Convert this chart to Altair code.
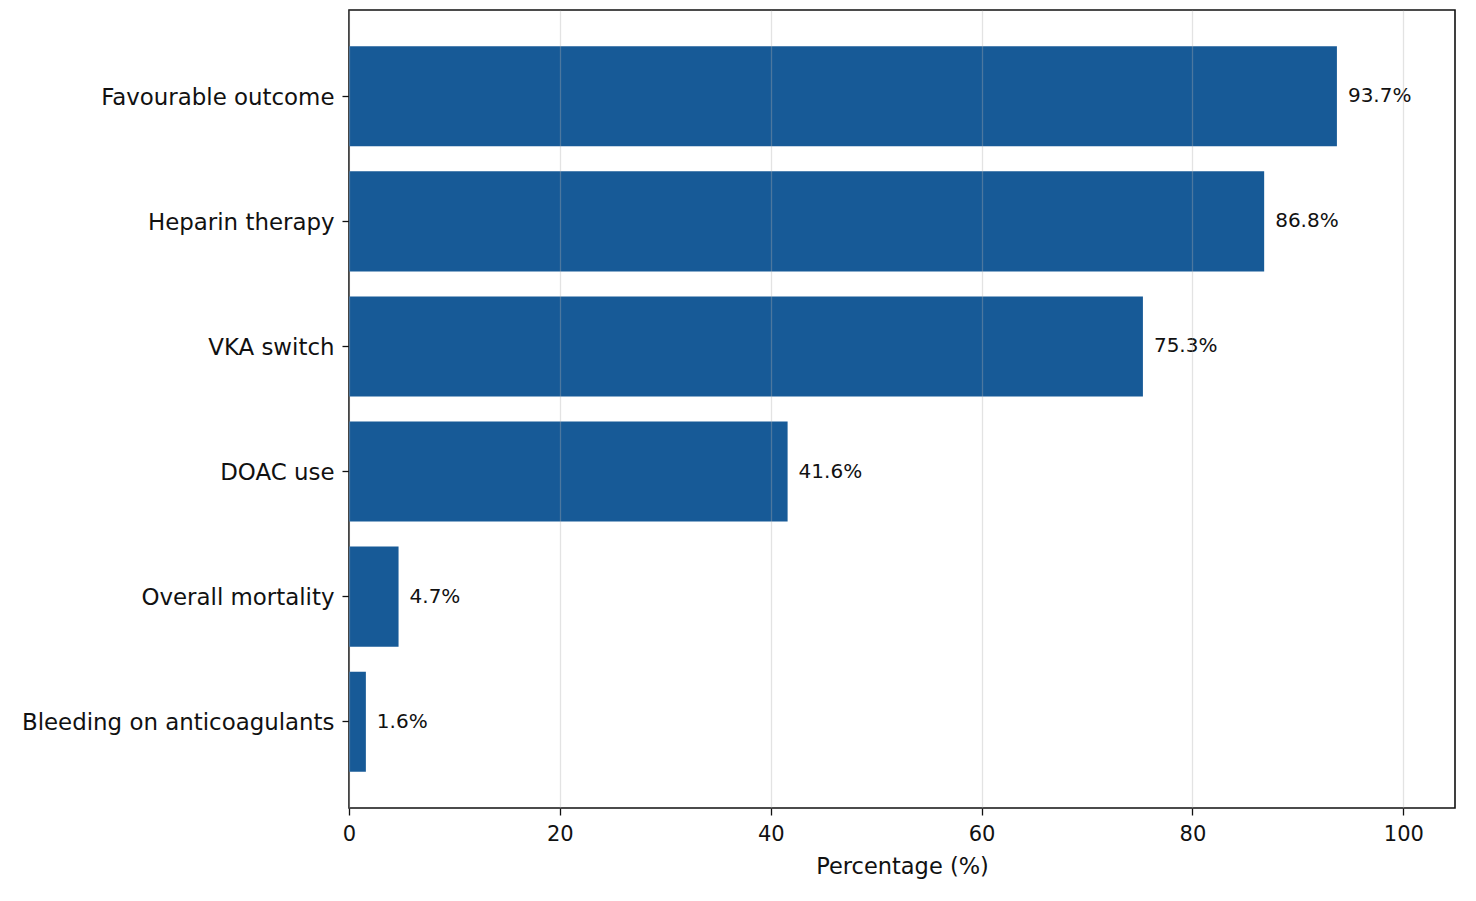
import altair as alt
import pandas as pd

categories = ["Favourable outcome", "Heparin therapy", "VKA switch", "DOAC use",
              "Overall mortality", "Bleeding on anticoagulants"]
values = [93.7, 86.8, 75.3, 41.6, 4.7, 1.6]
labels = ["93.7%", "86.8%", "75.3%", "41.6%", "4.7%", "1.6%"]

df = pd.DataFrame({"cat": categories, "val": values, "lab": labels})

FONT = "DejaVu Sans"
ysc = alt.Scale(paddingInner=0.2, paddingOuter=0.29)

bars = alt.Chart(df).mark_bar(color="#175a97").encode(
    x=alt.X("val:Q", title="Percentage (%)",
            scale=alt.Scale(domain=[0, 104.9], nice=False, zero=True),
            axis=alt.Axis(values=[0, 20, 40, 60, 80, 100], grid=True,
                          gridColor="#b0b0b0", gridOpacity=0.35, gridWidth=1.3,
                          zindex=1, labelFontSize=21, titleFontSize=22.5,
                          labelFont=FONT, titleFont=FONT, labelColor="#111",
                          titleColor="#111", titleFontWeight="normal",
                          labelFlush=False,
                          tickSize=7, tickColor="#111", tickWidth=1.3, domain=False,
                          labelPadding=8, titlePadding=11)),
    y=alt.Y("cat:N", sort=categories, title=None, scale=ysc,
            axis=alt.Axis(labelFontSize=22.9, labelFont=FONT, labelColor="#111",
                          labelLimit=400, tickSize=7, tickColor="#111", tickWidth=1.3,
                          domain=False, labelPadding=8, labelOffset=1.5, grid=False)),
)

text = alt.Chart(df).mark_text(align="left", baseline="middle", dx=11,
                               fontSize=20, font=FONT, color="#111").encode(
    x="val:Q",
    y=alt.Y("cat:N", sort=categories, scale=ysc),
    text="lab:N",
)

chart = (bars + text).properties(
    width=1106, height=798,
    autosize=alt.AutoSizeParams(type="none"),
    padding={"left": 341, "top": 2, "right": 12, "bottom": 85},
    background="white",
).configure_view(stroke="#111", strokeWidth=1.6)

chart.save("out.html", embed_options={"renderer": "svg", "actions": False})
